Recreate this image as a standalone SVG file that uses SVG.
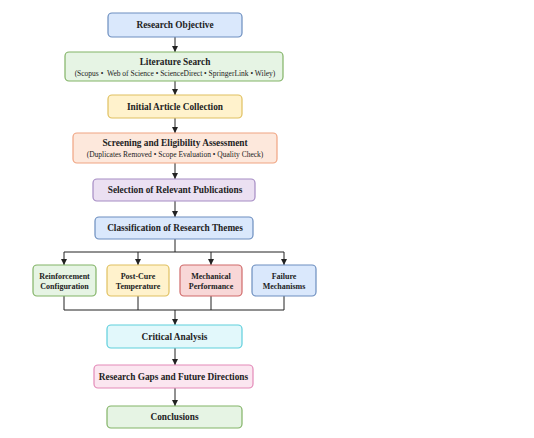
<svg xmlns="http://www.w3.org/2000/svg" width="534" height="438" viewBox="0 0 534 438">
<defs>
<marker id="ah" viewBox="0 0 10 10" refX="10" refY="5" markerWidth="6" markerHeight="6" markerUnits="userSpaceOnUse" orient="auto">
<path d="M0,0 L10,5 L0,10 z" fill="#222"/>
</marker>
<style>
.t{font-family:"Liberation Serif","Times New Roman",serif;font-weight:bold;font-size:9.3px;fill:#222;text-anchor:middle}
.m{font-family:"Liberation Serif","Times New Roman",serif;font-weight:bold;font-size:8px;fill:#222;text-anchor:middle}
.s{font-family:"Liberation Serif","Times New Roman",serif;font-size:7.5px;fill:#222;text-anchor:middle}
.b{stroke-width:1.2}
.blue{fill:#dae8fc;stroke:#6c8ebf}
.green{fill:#e6f4e4;stroke:#82b366}
.yellow{fill:#fff2cc;stroke:#e0c060}
.orange{fill:#fde8dc;stroke:#f0a482}
.purple{fill:#ebe0f2;stroke:#a58bc4}
.red{fill:#f8d7d7;stroke:#d06a6a}
.cyan{fill:#e2f8fb;stroke:#5fcfdc}
.pink{fill:#fbe6f0;stroke:#e38ab8}
.c line,.c path{stroke:#222;stroke-width:1;fill:none}
</style>
</defs>
<rect width="534" height="438" fill="#ffffff"/>
<g class="c" id="connectors">
<line x1="175" y1="37" x2="175" y2="52" marker-end="url(#ah)"/>
<line x1="175" y1="81" x2="175" y2="95" marker-end="url(#ah)"/>
<line x1="175" y1="118" x2="175" y2="133" marker-end="url(#ah)"/>
<line x1="175" y1="163" x2="175" y2="179" marker-end="url(#ah)"/>
<line x1="175" y1="201" x2="175" y2="217" marker-end="url(#ah)"/>
<line x1="175" y1="239" x2="175" y2="252"/>
<line x1="64" y1="252" x2="284" y2="252"/>
<line x1="64" y1="252" x2="64" y2="265" marker-end="url(#ah)"/>
<line x1="138" y1="252" x2="138" y2="265" marker-end="url(#ah)"/>
<line x1="211" y1="252" x2="211" y2="265" marker-end="url(#ah)"/>
<line x1="284" y1="252" x2="284" y2="265" marker-end="url(#ah)"/>
<line x1="64" y1="296" x2="64" y2="310"/>
<line x1="138" y1="296" x2="138" y2="310"/>
<line x1="211" y1="296" x2="211" y2="310"/>
<line x1="284" y1="296" x2="284" y2="310"/>
<line x1="64" y1="310" x2="284" y2="310"/>
<line x1="175" y1="310" x2="175" y2="325" marker-end="url(#ah)"/>
<line x1="175" y1="348" x2="175" y2="365" marker-end="url(#ah)"/>
<line x1="175" y1="388" x2="175" y2="406" marker-end="url(#ah)"/>
</g>
<g id="research-objective"><rect class="b blue" x="108" y="13" width="134" height="24" rx="4"/><text class="t" x="175" y="28.3">Research Objective</text></g>
<g id="literature-search"><rect class="b green" x="65" y="52" width="218" height="29" rx="4"/><text class="t" x="175" y="65">Literature Search</text><text class="s" x="175" y="75.5">(Scopus •&#160; Web of Science • ScienceDirect • SpringerLink • Wiley)</text></g>
<g id="initial-article"><rect class="b yellow" x="108" y="95" width="134" height="23" rx="4"/><text class="t" x="175" y="109.8">Initial Article Collection</text></g>
<g id="screening"><rect class="b orange" x="73" y="133" width="204" height="30" rx="4"/><text class="t" x="175" y="146">Screening and Eligibility Assessment</text><text class="s" x="175" y="157">(Duplicates Removed • Scope Evaluation • Quality Check)</text></g>
<g id="selection"><rect class="b purple" x="93" y="179" width="162" height="22" rx="4"/><text class="t" x="175" y="193.3">Selection of Relevant Publications</text></g>
<g id="classification"><rect class="b blue" x="95" y="217" width="158" height="22" rx="4"/><text class="t" x="175" y="231.3">Classification of Research Themes</text></g>
<g id="reinforcement"><rect class="b green" x="33" y="265" width="63" height="31" rx="4"/><text class="m" x="64.5" y="278.5">Reinforcement</text><text class="m" x="64.5" y="288.5">Configuration</text></g>
<g id="post-cure"><rect class="b yellow" x="107" y="265" width="62" height="31" rx="4"/><text class="m" x="138" y="278.5">Post-Cure</text><text class="m" x="138" y="288.5">Temperature</text></g>
<g id="mechanical"><rect class="b red" x="180" y="265" width="62" height="31" rx="4"/><text class="m" x="211" y="278.5">Mechanical</text><text class="m" x="211" y="288.5">Performance</text></g>
<g id="failure"><rect class="b blue" x="252" y="265" width="64" height="31" rx="4"/><text class="m" x="284" y="278.5">Failure</text><text class="m" x="284" y="288.5">Mechanisms</text></g>
<g id="critical-analysis"><rect class="b cyan" x="107" y="325" width="135" height="23" rx="4"/><text class="t" x="174.5" y="339.8">Critical Analysis</text></g>
<g id="research-gaps"><rect class="b pink" x="94" y="365" width="159" height="23" rx="4"/><text class="t" x="173.5" y="379.8">Research Gaps and Future Directions</text></g>
<g id="conclusions"><rect class="b green" x="107" y="406" width="135" height="22" rx="4"/><text class="t" x="174.5" y="420.3">Conclusions</text></g>
</svg>
